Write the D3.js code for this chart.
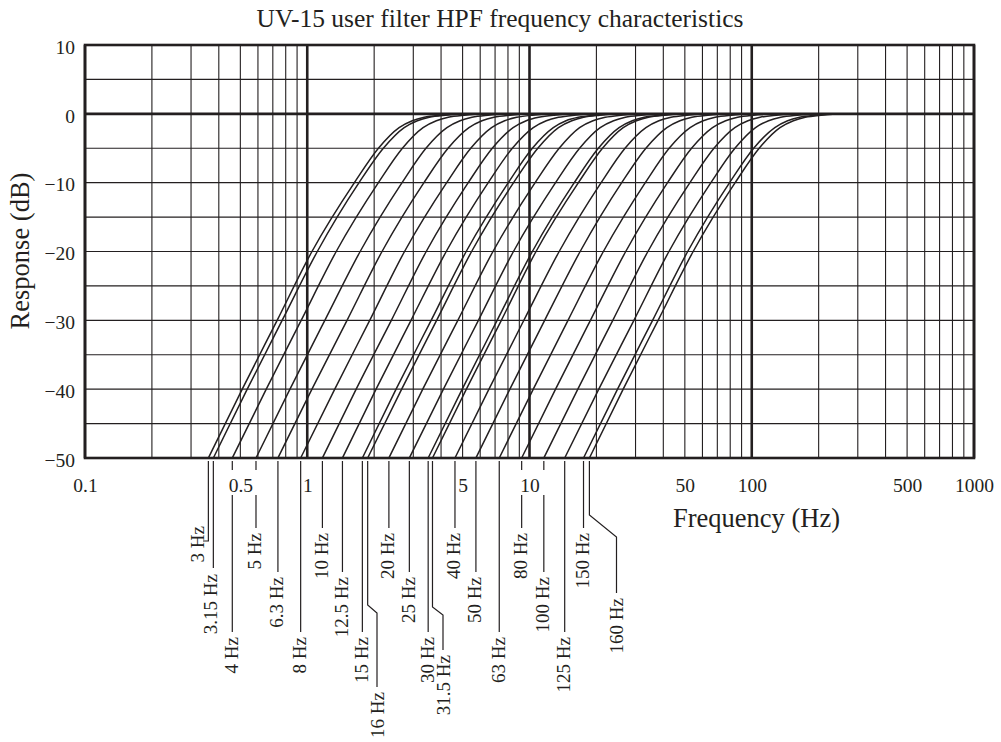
<!DOCTYPE html>
<html><head><meta charset="utf-8">
<script src="https://cdn.jsdelivr.net/npm/d3@7"></script>
<style>
body{margin:0;background:#fff}
svg{display:block}
text{font-family:"Liberation Serif","Times New Roman",serif;fill:#231f20}
</style>
</head><body>
<svg id="c" width="1001" height="742"></svg>
<script>
// ---------------- data ----------------
const chartTitle = "UV-15 user filter HPF frequency characteristics";
const xTitle = "Frequency (Hz)";
const yTitle = "Response (dB)";
const freqTickValues = [0.1, 0.5, 1, 5, 10, 50, 100, 500, 1000];
const freqTickLabels = ["0.1", "0.5", "1", "5", "10", "50", "100", "500", "1000"];
const dbTickValues = [-50, -40, -30, -20, -10, 0, 10];
const dbTickLabels = ["\u221250", "\u221240", "\u221230", "\u221220", "\u221210", "0", "10"];
// response levels (dB) at which each curve's frequency was read
const dbLevels = [-50, -40, -30, -20, -10, -5, -2, -1, -0.5, -0.2, 0];
const curveLabels = ["3 Hz", "3.15 Hz", "4 Hz", "5 Hz", "6.3 Hz", "8 Hz", "10 Hz", "12.5 Hz", "15 Hz", "16 Hz",
  "20 Hz", "25 Hz", "30 Hz", "31.5 Hz", "40 Hz", "50 Hz", "63 Hz", "80 Hz", "100 Hz", "125 Hz", "150 Hz", "160 Hz"];
// frequency (Hz) where each curve reaches the levels in dbLevels
const curveFreqs = [
  [0.359, 0.510, 0.732, 1.05, 1.63, 2.09, 2.59, 2.97, 3.36, 3.97, 5.31],
  [0.378, 0.537, 0.771, 1.11, 1.71, 2.20, 2.73, 3.13, 3.54, 4.18, 5.59],
  [0.460, 0.654, 0.939, 1.35, 2.09, 2.68, 3.32, 3.81, 4.31, 5.09, 6.80],
  [0.588, 0.836, 1.20, 1.73, 2.67, 3.42, 4.25, 4.87, 5.51, 6.51, 8.69],
  [0.738, 1.05, 1.51, 2.17, 3.35, 4.30, 5.34, 6.11, 6.92, 8.17, 10.9],
  [0.934, 1.33, 1.91, 2.74, 4.24, 5.44, 6.75, 7.73, 8.76, 10.3, 13.8],
  [1.17, 1.66, 2.39, 3.43, 5.30, 6.80, 8.44, 9.67, 11.0, 12.9, 17.3],
  [1.44, 2.04, 2.93, 4.22, 6.52, 8.37, 10.4, 11.9, 13.5, 15.9, 21.3],
  [1.77, 2.51, 3.61, 5.19, 8.03, 10.3, 12.8, 14.6, 16.6, 19.6, 26.1],
  [1.87, 2.66, 3.82, 5.49, 8.48, 10.9, 13.5, 15.5, 17.5, 20.7, 27.6],
  [2.33, 3.31, 4.76, 6.85, 10.6, 13.6, 16.8, 19.3, 21.9, 25.8, 34.5],
  [2.88, 4.10, 5.89, 8.47, 13.1, 16.8, 20.8, 23.9, 27.0, 31.9, 42.6],
  [3.50, 4.98, 7.15, 10.3, 15.9, 20.4, 25.3, 29.0, 32.8, 38.8, 51.8],
  [3.66, 5.20, 7.47, 10.7, 16.6, 21.3, 26.4, 30.3, 34.3, 40.5, 54.1],
  [4.62, 6.57, 9.43, 13.6, 21.0, 26.9, 33.4, 38.2, 43.3, 51.1, 68.3],
  [5.74, 8.16, 11.7, 16.9, 26.0, 33.4, 41.5, 47.5, 53.8, 63.5, 84.9],
  [7.31, 10.4, 14.9, 21.5, 33.2, 42.5, 52.8, 60.5, 68.5, 80.9, 108],
  [9.22, 13.1, 18.8, 27.1, 41.8, 53.6, 66.6, 76.3, 86.4, 102, 136],
  [11.6, 16.5, 23.7, 34.1, 52.7, 67.6, 83.9, 96.1, 109, 129, 172],
  [14.4, 20.5, 29.5, 42.4, 65.5, 84.0, 104, 119, 135, 160, 213],
  [17.5, 24.9, 35.8, 51.5, 79.5, 102, 127, 145, 164, 194, 259],
  [18.6, 26.4, 37.9, 54.5, 84.2, 108, 134, 154, 174, 205, 275]
];

// ---------------- layout ----------------
const ink = "#231f20";
const plot = {left: 85, right: 974, top: 45, bottom: 458};
const rowEnd = {A: 528, B: 572, C: 632};
const gapBand = [470, 495];
// callout routing for each label (layout only)
const calloutLayout = [
  {end: 541, tx: 197, ttop: 526, hook: 203},
  {end: 568, tx: 210.5, ttop: 574},
  {row: "C", brk: true},
  {row: "A", brk: true},
  {row: "B"},
  {row: "C"},
  {row: "A"},
  {row: "B"},
  {row: "C"},
  {jog: [605, 377, 613], end: 687},
  {row: "A"},
  {row: "B"},
  {row: "C"},
  {jog: [607, 443, 615], end: 650},
  {row: "A"},
  {row: "B"},
  {row: "C"},
  {row: "A", brk: true},
  {row: "B", brk: true},
  {row: "C"},
  {row: "A"},
  {jog: [515, 616.5, 537], end: 593}
];
const serif = '"Liberation Serif","Times New Roman",serif';

const svg = d3.select("#c");
const x = d3.scaleLog().domain([0.1, 1000]).range([plot.left, plot.right]);
const y = d3.scaleLinear().domain([-50, 10]).range([plot.bottom, plot.top]);

// grid
const g = svg.append("g");
const isDecade = v => Math.abs(Math.log10(v) - Math.round(Math.log10(v))) < 1e-9;
g.selectAll("line.v").data(x.ticks()).join("line")
  .attr("x1", d => x(d)).attr("x2", d => x(d))
  .attr("y1", plot.top).attr("y2", plot.bottom)
  .attr("stroke", ink)
  .attr("stroke-width", d => isDecade(d) ? 2.6 : 1.1);
g.selectAll("line.h").data(y.ticks(12)).join("line")
  .attr("x1", plot.left).attr("x2", plot.right)
  .attr("y1", d => y(d)).attr("y2", d => y(d))
  .attr("stroke", ink)
  .attr("stroke-width", d => d === 0 ? 2.8 : 1.1);
svg.append("rect")
  .attr("x", plot.left).attr("y", plot.top)
  .attr("width", plot.right - plot.left).attr("height", plot.bottom - plot.top)
  .attr("fill", "none").attr("stroke", ink).attr("stroke-width", 2.6);

// curves
const line = d3.line()
  .x(d => x(d[0])).y(d => y(d[1]))
  .curve(d3.curveMonotoneX);
svg.append("g").selectAll("path").data(curveFreqs).join("path")
  .attr("d", fr => line(fr.map((f, i) => [f, dbLevels[i]])))
  .attr("fill", "none").attr("stroke", ink).attr("stroke-width", 1.5)
  .attr("stroke-linejoin", "round");

// callouts (drawn before the axis labels)
const cg = svg.append("g");
const startY = plot.bottom + 3;
curveLabels.forEach((lab, i) => {
  const L = calloutLayout[i];
  const lx = x(curveFreqs[i][0]);
  let segs, tx, ttop;
  if (L.jog) {
    const [yj1, xj, yj2] = L.jog;
    segs = [[[lx, startY], [lx, yj1], [xj, yj2], [xj, L.end]]];
    tx = xj; ttop = L.end + 5;
  } else if (L.row) {
    const e = rowEnd[L.row];
    segs = L.brk ? [[[lx, startY], [lx, gapBand[0]]], [[lx, gapBand[1]], [lx, e]]]
                 : [[[lx, startY], [lx, e]]];
    tx = lx - 1; ttop = e + 5;
  } else {
    const p = [[lx, startY], [lx, L.end]];
    if (L.hook) p.push([L.hook, L.end]);
    segs = [p];
    tx = L.tx; ttop = L.ttop;
  }
  segs.forEach(s => cg.append("path")
    .attr("d", d3.line()(s))
    .attr("fill", "none").attr("stroke", ink).attr("stroke-width", 1.2));
  cg.append("text")
    .attr("transform", `translate(${tx},${ttop}) rotate(-90)`)
    .attr("text-anchor", "end").attr("dominant-baseline", "central")
    .attr("font-size", 19).text(lab);
});

// axes (labels only)
const xAxis = d3.axisBottom(x).tickValues(freqTickValues)
  .tickFormat((d, i) => freqTickLabels[i]).tickSize(0).tickPadding(20);
const gx = svg.append("g").attr("transform", `translate(0,${plot.bottom})`).call(xAxis);
gx.select(".domain").remove();
gx.selectAll("text").attr("font-size", 19.5).attr("fill", ink).style("font-family", serif);

const yAxis = d3.axisLeft(y).tickValues(dbTickValues)
  .tickFormat((d, i) => dbTickLabels[i]).tickSize(0).tickPadding(10);
const gy = svg.append("g").attr("transform", `translate(${plot.left},0)`).call(yAxis);
gy.select(".domain").remove();
gy.selectAll("text").attr("font-size", 19.5).attr("dy", "0.42em").attr("fill", ink).style("font-family", serif);

// titles
svg.append("text").attr("x", 500).attr("y", 27).attr("text-anchor", "middle")
  .attr("font-size", 25.5).text(chartTitle);
svg.append("text").attr("x", 673).attr("y", 527)
  .attr("font-size", 26.5).text(xTitle);
svg.append("text").attr("transform", "translate(29,251) rotate(-90)")
  .attr("text-anchor", "middle").attr("font-size", 26.5).text(yTitle);
</script>
</body></html>
